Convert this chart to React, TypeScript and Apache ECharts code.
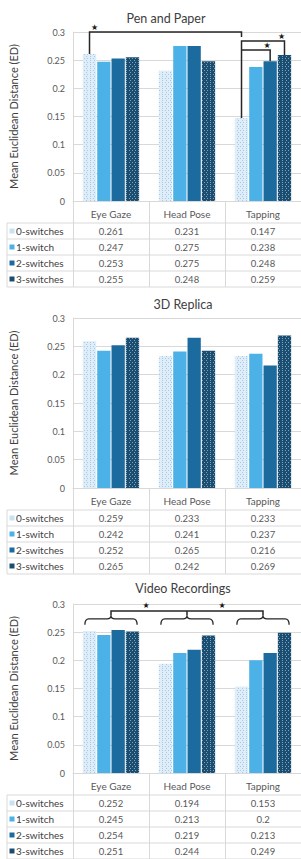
import React, { useEffect, useRef } from "react";
import * as echarts from "echarts";

// ---------- data ----------
const categories = ["Eye Gaze", "Head Pose", "Tapping"];
const seriesNames = ["0-switches", "1-switch", "2-switches", "3-switches"];
const panelTitles = ["Pen and Paper", "3D Replica", "Video Recordings"];

// rows: 0-switches, 1-switch, 2-switches, 3-switches ; columns: categories
const penAndPaper = [
  [0.261, 0.231, 0.147],
  [0.247, 0.275, 0.238],
  [0.253, 0.275, 0.248],
  [0.255, 0.248, 0.259],
];
const replica3D = [
  [0.259, 0.233, 0.233],
  [0.242, 0.241, 0.237],
  [0.252, 0.265, 0.216],
  [0.265, 0.242, 0.269],
];
const videoRecordings = [
  [0.252, 0.194, 0.153],
  [0.245, 0.213, 0.2],
  [0.254, 0.219, 0.213],
  [0.251, 0.244, 0.249],
];
const panelData = [penAndPaper, replica3D, videoRecordings];

const yMin = 0;
const yMax = 0.3;
const yInterval = 0.05;

// ---------- styles / layout ----------
const W = 301;
const H = 859;
const FONT = "Lato, 'Open Sans', sans-serif";
const GRID_LEFT = 73;
const panels = [
  { top: 32, bottom: 201, titleX: 166, titleY: 18 },
  { top: 318, bottom: 488, titleX: 183, titleY: 304 },
  { top: 604, bottom: 773, titleX: 183, titleY: 588 },
];
const BAR_CAT_GAP = 0.26;
const BAR_GAP = 0.08;
const keyColors = ["#c9e1f2", "#4cb1e6", "#1c6b9e", "#1b4d70"];
const GRID_COLOR = "#d9d9d9";

const dotDecal = (color: string) => ({
  symbol: "rect",
  symbolSize: 1,
  color,
  dashArrayX: [
    [1, 2],
    [0, 1.5, 1, 0.5],
  ],
  dashArrayY: [1, 1],
  rotation: 0,
});

const itemStyles = [
  { color: "#deedf7", decal: dotDecal("#a3cbe6") },
  { color: "#4cb1e6" },
  { color: "#1c6b9e" },
  { color: "#1b4d70", decal: dotDecal("rgba(190,220,240,0.6)") },
];

// significance annotations (value levels)
const penPaperBrackets = [
  // [fromSeries, fromCat, toSeries, toCat, level, leftEnd, rightEnd, starSide]
  { from: [0, 0], to: [0, 2], level: 0.3, leftEnd: 0.261, rightEnd: 0.291, star: "left" },
  { from: [0, 2], to: [3, 2], level: 0.284, leftEnd: 0.147, rightEnd: 0.259, star: "right" },
  { from: [0, 2], to: [2, 2], level: 0.268, leftEnd: 0.268, rightEnd: 0.248, star: "right" },
];
const videoBraceLevels = { end: 0.263, mid: 0.2735, peak: 0.279, line: 0.2876 };

// ---------- custom brace shape ----------
const Brace = (echarts as any).graphic.extendShape({
  type: "brace",
  shape: { x1: 0, x2: 0, xm: 0, yEnd: 0, yMid: 0, yPeak: 0 },
  buildPath(ctx: any, s: any) {
    const r = 4;
    ctx.moveTo(s.x1, s.yEnd);
    ctx.quadraticCurveTo(s.x1, s.yMid, s.x1 + r, s.yMid);
    ctx.lineTo(s.xm - r, s.yMid);
    ctx.quadraticCurveTo(s.xm, s.yMid, s.xm, s.yPeak);
    ctx.moveTo(s.xm, s.yPeak);
    ctx.quadraticCurveTo(s.xm, s.yMid, s.xm + r, s.yMid);
    ctx.lineTo(s.x2 - r, s.yMid);
    ctx.quadraticCurveTo(s.x2, s.yMid, s.x2, s.yEnd);
  },
});
try {
  (echarts as any).graphic.registerShape("brace", Brace);
} catch (e) {
  /* already registered */
}

function buildOption() {
  const grid = panels.map((p) => ({
    left: GRID_LEFT,
    top: p.top,
    width: W - GRID_LEFT,
    height: p.bottom - p.top,
  }));
  const xAxis = panels.map((p, i) => ({
    type: "category",
    gridIndex: i,
    data: categories,
    axisLine: { show: true, lineStyle: { color: GRID_COLOR, width: 1 } },
    axisTick: { show: true, length: 86, lineStyle: { color: GRID_COLOR } },
    axisLabel: { show: true, margin: 8, fontSize: 10, color: "#595959", fontFamily: FONT },
    splitLine: { show: false },
  }));
  const yAxis = panels.map((p, i) => ({
    type: "value",
    gridIndex: i,
    min: yMin,
    max: yMax,
    interval: yInterval,
    name: "Mean Euclidean Distance (ED)",
    nameLocation: "middle",
    nameGap: 54,
    nameTextStyle: { fontSize: 11, color: "#404040", fontFamily: FONT },
    axisLine: { show: true, lineStyle: { color: GRID_COLOR } },
    axisTick: { show: false },
    axisLabel: {
      fontSize: 9,
      color: "#595959",
      fontFamily: FONT,
      margin: 8,
      formatter: (v: number) => String(Math.round(v * 100) / 100),
    },
    splitLine: { show: true, lineStyle: { color: GRID_COLOR } },
  }));
  const series: any[] = [];
  panelData.forEach((data, p) => {
    data.forEach((vals, s) => {
      series.push({
        type: "bar",
        name: seriesNames[s],
        xAxisIndex: p,
        yAxisIndex: p,
        data: vals,
        barCategoryGap: BAR_CAT_GAP * 100 + "%",
        barGap: BAR_GAP * 100 + "%",
        itemStyle: itemStyles[s],
      });
    });
  });
  return {
    animation: false,
    backgroundColor: "#ffffff",
    textStyle: { fontFamily: FONT },
    grid,
    xAxis,
    yAxis,
    series,
  };
}

export default function App() {
  const ref = useRef<HTMLDivElement>(null);
  useEffect(() => {
    const el = ref.current;
    if (!el) return;
    const chart = echarts.init(el, undefined, { renderer: "svg", width: W, height: H });
    chart.setOption(buildOption() as any);

    const px = (p: number, c: number, v: number) =>
      chart.convertToPixel({ gridIndex: p } as any, [c, v]) as unknown as number[];
    const band = (p: number) => px(p, 1, 0)[0] - px(p, 0, 0)[0];
    const barGeom = (p: number, s: number, c: number) => {
      const bw = band(p);
      const groupW = bw * (1 - BAR_CAT_GAP);
      const barW = groupW / (4 + 3 * BAR_GAP);
      const cx = px(p, c, 0)[0];
      const left = cx - groupW / 2 + s * barW * (1 + BAR_GAP);
      return { left, right: left + barW, center: left + barW / 2 };
    };
    const yv = (p: number, v: number) => px(p, 0, v)[1];

    const g: any[] = [];
    const lineStroke = { stroke: "#262626", lineWidth: 1.5, fill: "none" };

    panels.forEach((pl, p) => {
      // title
      g.push({
        type: "text",
        x: pl.titleX,
        y: pl.titleY,
        style: {
          text: panelTitles[p],
          fontSize: 12.5,
          fill: "#404040",
          fontFamily: FONT,
          align: "center",
          verticalAlign: "middle",
        },
      });
      // data table
      const y0 = yv(p, 0);
      const tableLeft = 7;
      const rowTop = y0 + 22;
      const rowH = 16;
      for (let k = 0; k <= seriesNames.length; k++) {
        g.push({
          type: "line",
          shape: { x1: tableLeft, y1: rowTop + k * rowH, x2: W, y2: rowTop + k * rowH },
          style: { stroke: GRID_COLOR, lineWidth: 1 },
        });
      }
      g.push({
        type: "line",
        shape: { x1: tableLeft, y1: rowTop, x2: tableLeft, y2: rowTop + seriesNames.length * rowH },
        style: { stroke: GRID_COLOR, lineWidth: 1 },
      });
      seriesNames.forEach((name, s) => {
        const cy = rowTop + s * rowH + rowH / 2;
        g.push({
          type: "rect",
          shape: { x: 9.5, y: cy - 2.5, width: 5, height: 5 },
          style: { fill: keyColors[s] },
        });
        g.push({
          type: "text",
          x: 16,
          y: cy,
          style: {
            text: name,
            fontSize: 10,
            fill: "#404040",
            fontFamily: FONT,
            align: "left",
            verticalAlign: "middle",
          },
        });
        categories.forEach((cat, c) => {
          g.push({
            type: "text",
            x: px(p, c, 0)[0],
            y: cy,
            style: {
              text: String(panelData[p][s][c]),
              fontSize: 9.5,
              fill: "#595959",
              fontFamily: FONT,
              align: "center",
              verticalAlign: "middle",
            },
          });
        });
      });
    });

    // Pen and Paper brackets
    penPaperBrackets.forEach((b) => {
      const xa = barGeom(0, b.from[0], b.from[1]).center;
      const xb = barGeom(0, b.to[0], b.to[1]).center;
      const yl = yv(0, b.level);
      g.push({
        type: "polyline",
        shape: {
          points: [
            [xa, yv(0, b.leftEnd)],
            [xa, yl],
            [xb, yl],
            [xb, yv(0, b.rightEnd)],
          ],
        },
        style: lineStroke,
      });
      g.push({
        type: "text",
        x: b.star === "left" ? xa + 5 : xb - 3,
        y: yl - 5,
        style: {
          text: "★",
          fontSize: 8,
          fill: "#1a1a1a",
          fontFamily: "DejaVu Sans",
          align: "center",
          verticalAlign: "middle",
        },
      });
    });

    // Video Recordings braces
    const centers: number[] = [];
    categories.forEach((cat, c) => {
      const x1 = barGeom(2, 0, c).left + 2;
      const x2 = barGeom(2, 3, c).right - 2;
      const xm = px(2, c, 0)[0];
      centers.push(xm);
      g.push({
        type: "brace",
        shape: {
          x1,
          x2,
          xm,
          yEnd: yv(2, videoBraceLevels.end),
          yMid: yv(2, videoBraceLevels.mid),
          yPeak: yv(2, videoBraceLevels.peak),
        },
        style: { stroke: "#262626", lineWidth: 1.3, fill: null },
      });
    });
    const yLine = yv(2, videoBraceLevels.line);
    const yPeak = yv(2, videoBraceLevels.peak);
    g.push({
      type: "polyline",
      shape: {
        points: [
          [centers[0], yPeak],
          [centers[0], yLine],
          [centers[2], yLine],
          [centers[2], yPeak],
        ],
      },
      style: lineStroke,
    });
    g.push({
      type: "line",
      shape: { x1: centers[1], y1: yLine, x2: centers[1], y2: yPeak },
      style: { stroke: "#262626", lineWidth: 1.5 },
    });
    [0, 1].forEach((i) => {
      g.push({
        type: "text",
        x: (centers[i] + centers[i + 1]) / 2 - 3,
        y: yLine - 5,
        style: {
          text: "★",
          fontSize: 8,
          fill: "#1a1a1a",
          fontFamily: "DejaVu Sans",
          align: "center",
          verticalAlign: "middle",
        },
      });
    });

    chart.setOption({ graphic: { elements: g } } as any);
    return () => chart.dispose();
  }, []);
  return (
    <div
      ref={ref}
      style={{ position: "absolute", left: 0, top: 0, width: W, height: H, background: "#fff" }}
    />
  );
}
